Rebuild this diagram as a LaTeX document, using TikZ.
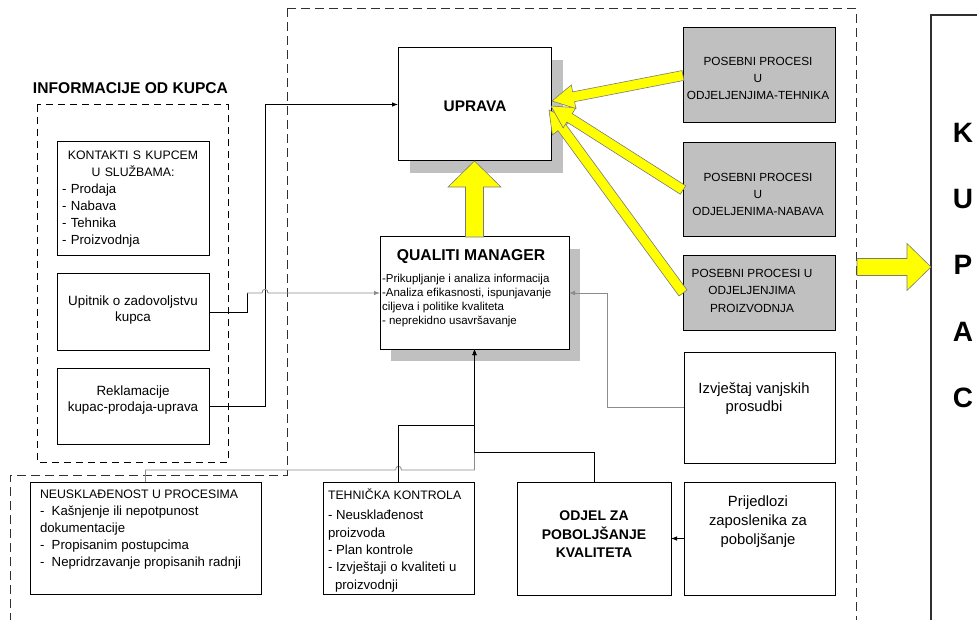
\documentclass[tikz,border=0pt]{standalone}
\usepackage{fontspec}
\setmainfont{Liberation Sans}
\usetikzlibrary{arrows.meta,calc}
\definecolor{shadowgray}{HTML}{C0C0C0}
\definecolor{procgray}{HTML}{C0C0C0}
\definecolor{arrowyellow}{HTML}{FFFF00}
\definecolor{yellowedge}{HTML}{7A7A7A}
\definecolor{linegray}{HTML}{8C8C8C}
\definecolor{dashgray}{HTML}{303030}
\newcommand\fsz[2]{\fontsize{#1}{#2}\selectfont}
% #1 name, #2 tail, #3 tip, #4 half shaft, #5 half head, #6 head length
\newcommand\fatarrow[6]{%
  \coordinate (#1-h) at ($(#3)!#6!(#2)$);
  \filldraw[fat]
    ($(#2)!#4!90:(#3)$) -- ($(#1-h)!#4!90:(#3)$) -- ($(#1-h)!#5!90:(#3)$) -- (#3)
    -- ($(#1-h)!#5!-90:(#3)$) -- ($(#1-h)!#4!-90:(#3)$) -- ($(#2)!#4!-90:(#3)$) -- cycle;
}
\begin{document}
\begin{tikzpicture}[x=1pt,y=-1pt,
  box/.style={draw=black, line width=1pt, fill=white, anchor=north west, inner sep=0pt, outer sep=0pt},
  procbox/.style={box, fill=procgray},
  wh/.style 2 args={minimum width=#1pt, minimum height=#2pt},
  txt/.style={inner sep=0pt, outer sep=0pt},
  conn/.style={line width=0.8pt, -{Latex[length=6pt,width=4.5pt]}},
  gconn/.style={conn, draw=linegray},
  plainline/.style={line width=0.8pt},
  fat/.style={fill=arrowyellow, draw=yellowedge, line width=0.6pt, line join=miter},
  dashbox/.style={draw=dashgray, line width=1pt, dash pattern=on 9pt off 5pt},
]
\clip (0,0) rectangle (977,620);
\fill[white] (0,0) rectangle (977,620);

% dashed regions
\draw[dashbox] (287,9) -- (856,9) -- (856,630) -- (10,630) -- (10,475) -- (287,475) -- cycle;
\draw[dashbox, draw=black, dash pattern=on 7pt off 5pt] (37,105) rectangle (228,462);

% shadows
\fill[shadowgray] (410,60) rectangle (563,173);
\fill[shadowgray] (391,249) rectangle (580,361);

% boxes
\node[box, wh={152}{114}] (kont) at (57,142) {};
\node[box, wh={152}{76}] (upit) at (57,274) {};
\node[box, wh={152}{76}] (rekl) at (57,368) {};
\node[box, wh={153}{113}] (upr) at (398,48) {};
\node[box, wh={189}{112}] (qm) at (380,237) {};
\node[procbox, wh={152}{95}] (teh) at (683,28) {};
\node[procbox, wh={152}{94}] (nab) at (683,143) {};
\node[procbox, wh={152}{74}] (pro) at (683,256) {};
\node[box, wh={151}{111}] (izv) at (684,352) {};
\node[box, wh={151}{113}] (pri) at (684,482) {};
\node[box, wh={154}{113}] (odj) at (517,482) {};
\node[box, wh={231}{112}] (neu) at (30,482) {};
\node[box, wh={151}{112}] (tk) at (323,482) {};
\node[box, draw=dashgray, line width=1.3pt, wh={80}{640}] (kup) at (931,15) {};

% connectors
\draw[conn] (rekl.east) -- ++(56,0) |- (upr.west);
\coordinate (upbend) at (247,293);
\draw[plainline] (upit.east) -| (upbend);
\draw[gconn] (upbend) -- (262,293) .. controls (262,288) and (268,288) .. (268,293) -- (qm.west);
\draw[gconn] (izv.west) -- ++(-77,0) |- (qm.east);
\draw[gconn] (neu.north) -- (145.5,470) -- (395.5,470) .. controls (395.5,465) and (401.5,465) .. (401.5,470) -- (474.5,470) -- (qm.south);
\draw[conn] (tk.north) |- (474.5,425) -- (qm.south);
\draw[conn] (odj.north) |- (474.5,452) -- (qm.south);
\draw[conn] (pri.west) -- (odj.east);

% fat yellow arrows
\fatarrow{big}{qm.north}{upr.south}{9pt}{26.5pt}{26pt}
\coordinate (t1) at (552,101);
\coordinate (t2) at (551,106);
\coordinate (t3) at (549,110);
\fatarrow{a3}{pro.west}{t3}{5pt}{12pt}{22pt}
\fatarrow{a2}{nab.west}{t2}{5pt}{12pt}{22pt}
\fatarrow{a1}{teh.west}{t1}{5pt}{12pt}{22pt}
\coordinate (kt) at (857,267);
\coordinate (kt2) at ($(kup.north west)+(0,252)$);
\fatarrow{a4}{kt}{kt2}{8.5pt}{23.5pt}{24pt}

% texts
\node[txt, font=\bfseries\fsz{15.6}{18}] (title) at (130.5,88) {INFORMACIJE OD KUPCA};
\node[txt, text width=142pt, align=left, font=\fsz{13.2}{17}] (kontT) at (133,199.5)
  {\makebox[142pt]{\fsz{12.3}{17}KONTAKTI S KUPCEM}\\\makebox[142pt]{\fsz{12.3}{17}U SLUŽBAMA:}\\- Prodaja\\- Nabava\\- Tehnika\\- Proizvodnja};
\node[txt, align=center, font=\fsz{13.4}{16}] (upitT) at (133,310) {Upitnik o zadovoljstvu\\kupca};
\node[txt, align=center, font=\fsz{13.4}{16}] (reklT) at (133,400) {Reklamacije\\kupac-prodaja-uprava};
\node[txt, font=\bfseries\fsz{15.4}{18}] (uprT) at (475,106) {UPRAVA};
\node[txt, font=\bfseries\fsz{15.7}{18}] (qmT) at (471,257) {QUALITI MANAGER};
\node[txt, anchor=west, align=left, font=\fsz{11.5}{14.3}] (qmB) at (382,300.5)
  {-Prikupljanje i analiza informacija\\-Analiza efikasnosti, ispunjavanje\\ciljeva i politike kvaliteta\\- neprekidno usavršavanje};
\node[txt, align=center, font=\fsz{11.8}{17}] (tehT) at (758,78) {POSEBNI PROCESI\\U\\ODJELJENJIMA-TEHNIKA};
\node[txt, align=center, font=\fsz{11.8}{17}] (nabT) at (758,194) {POSEBNI PROCESI\\U\\ODJELJENIMA-NABAVA};
\node[txt, align=center, font=\fsz{11.8}{17.5}] (proT) at (752,290.5) {POSEBNI PROCESI U\\ODJELJENJIMA\\PROIZVODNJA};
\node[txt, align=center, font=\fsz{14.8}{18}] (izvT) at (754,399) {Izvještaj vanjskih\\prosudbi};
\node[txt, align=center, font=\fsz{14.8}{19}] (priT) at (758,522) {Prijedlozi\\zaposlenika za\\poboljšanje};
\node[txt, align=center, font=\bfseries\fsz{14}{18.5}] (odjT) at (594,534.5) {ODJEL ZA\\POBOLJŠANJE\\KVALITETA};
\node[txt, anchor=west, align=left, font=\fsz{13.2}{17}] (neuT) at (40,530)
  {{\fsz{12.3}{17}NEUSKLAĐENOST U PROCESIMA}\\-\ \ Kašnjenje ili nepotpunost\\dokumentacije\\-\ \ Propisanim postupcima\\-\ \ Nepridrzavanje propisanih radnji};
\node[txt, anchor=west, align=left, font=\fsz{13.2}{17.4}] (tkT) at (328,540.5)
  {{\fsz{12.3}{17.4}TEHNIČKA KONTROLA}\\[2.5pt]- Neusklađenost\\proizvoda\\- Plan kontrole\\- Izvještaji o kvaliteti u\\\hspace*{7pt}proizvodnji};
\node[txt, align=center, font=\bfseries\fsz{28}{66.25}] (kupT) at (963,265.5) {K\\U\\P\\A\\C};
\end{tikzpicture}
\end{document}
